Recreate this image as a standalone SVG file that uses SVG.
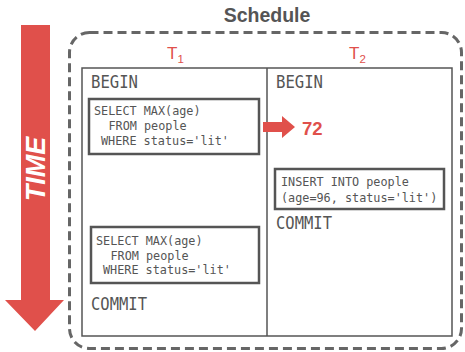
<svg xmlns="http://www.w3.org/2000/svg" width="465" height="352" viewBox="0 0 465 352">
<style>
.mono{font-family:"DejaVu Sans Mono","Liberation Mono",monospace;fill:#555}
.kw{font-size:17.5px}
.sql{font-size:11.8px}
.box{fill:#fff;stroke:#555;stroke-width:2.5}
.red{fill:#e0504b}
</style>
<rect width="465" height="352" fill="#fff"/>
<g id="time-arrow">
<polygon class="red" points="21,25 50,25 50,300 64,300 35,331 5,300 21,300"/>
<text transform="translate(45,169) rotate(-90)" text-anchor="middle" font-family="Liberation Sans,Arial,sans-serif" font-weight="bold" font-style="italic" font-size="27" fill="#fff">TIME</text>
</g>
<g id="schedule">
<rect x="69.5" y="32.5" width="392" height="316" rx="20" fill="none" stroke="#666" stroke-width="3" stroke-dasharray="9,5"/>
<text x="267" y="22" text-anchor="middle" font-family="Liberation Sans,Arial,sans-serif" font-weight="bold" font-size="19.5" fill="#555">Schedule</text>
</g>
<g id="headers" font-family="Liberation Sans,Arial,sans-serif" fill="#e0504b">
<text x="167" y="59" font-size="17">T<tspan font-size="11.5" dy="4">1</tspan></text>
<text x="349" y="59" font-size="17">T<tspan font-size="11.5" dy="4">2</tspan></text>
</g>
<g id="table" fill="none" stroke="#555" stroke-width="1.5">
<rect x="82" y="68" width="370" height="268"/>
<line x1="267" y1="68" x2="267" y2="336"/>
</g>
<g id="t1">
<text class="mono kw" x="91" y="88" textLength="47" lengthAdjust="spacingAndGlyphs">BEGIN</text>
<g id="t1-select1">
<rect class="box" x="89" y="99" width="170" height="55"/>
<text class="mono sql" x="94" y="115">SELECT MAX(age)</text>
<text class="mono sql" x="108.5" y="130">FROM people</text>
<text class="mono sql" x="101" y="145">WHERE status='lit'</text>
</g>
<g id="t1-select2">
<rect class="box" x="91" y="227" width="168" height="56"/>
<text class="mono sql" x="96" y="245">SELECT MAX(age)</text>
<text class="mono sql" x="110.5" y="260">FROM people</text>
<text class="mono sql" x="103" y="274">WHERE status='lit'</text>
</g>
<text class="mono kw" x="91" y="310" textLength="56" lengthAdjust="spacingAndGlyphs">COMMIT</text>
</g>
<g id="t2">
<text class="mono kw" x="276" y="88" textLength="47" lengthAdjust="spacingAndGlyphs">BEGIN</text>
<g id="t2-insert">
<rect class="box" x="275" y="169" width="169" height="40"/>
<text class="mono sql" x="281" y="186">INSERT INTO people</text>
<text class="mono sql" x="281" y="202">(age=96, status='lit')</text>
</g>
<text class="mono kw" x="276" y="229" textLength="56" lengthAdjust="spacingAndGlyphs">COMMIT</text>
</g>
<g id="connectors">
<polygon class="red" points="263,122 282,122 282,116 295,127 282,138 282,132 263,132"/>
</g>
<g id="result">
<text x="302" y="135" font-family="Liberation Sans,Arial,sans-serif" font-weight="bold" font-size="18.5" fill="#e0504b">72</text>
</g>
</svg>
